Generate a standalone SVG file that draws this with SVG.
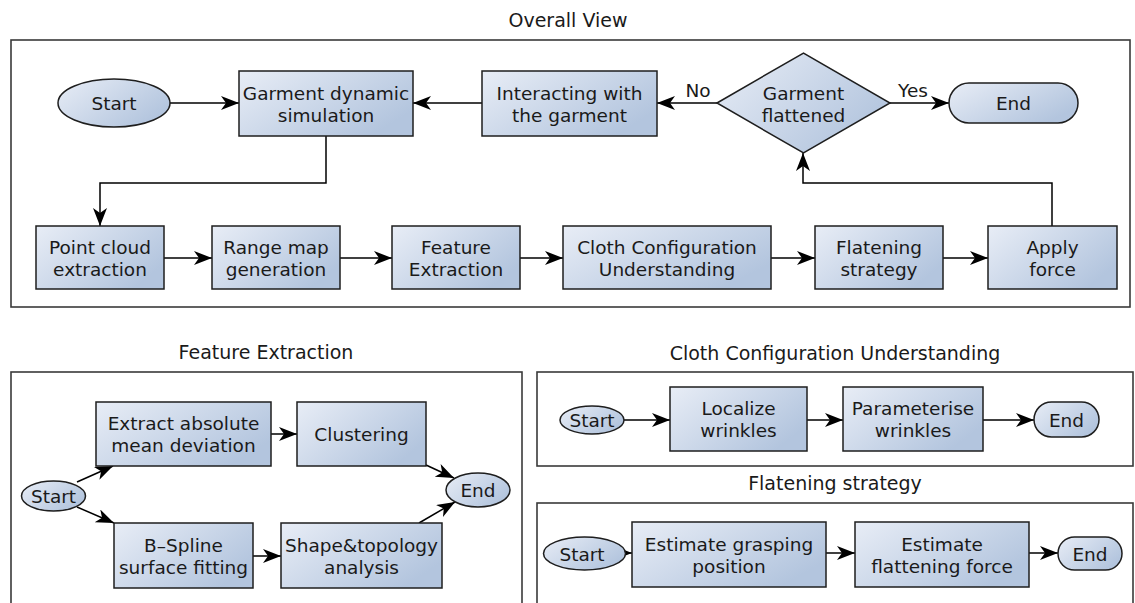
<svg xmlns="http://www.w3.org/2000/svg" width="1135" height="603" viewBox="0 0 1135 603">
  <defs>
    <linearGradient id="fill" x1="0" y1="0" x2="1" y2="0.6">
      <stop offset="0" stop-color="#e8edf6"/>
      <stop offset="1" stop-color="#b3c5de"/>
    </linearGradient>
    <marker id="arrow" markerUnits="userSpaceOnUse" markerWidth="20" markerHeight="16" refX="18" refY="7" orient="auto">
      <path d="M0,0 L18,7 L0,14 L5,7 Z" fill="#000"/>
    </marker>
    <style>
      .frame { fill: none; stroke: #3a3a3a; stroke-width: 1.6; }
      .shape { fill: url(#fill); stroke: #1e1e1e; stroke-width: 1.5; }
      .link { fill: none; stroke: #000; stroke-width: 1.5; marker-end: url(#arrow); }
      text { font-family: "DejaVu Sans", Verdana, sans-serif; font-size: 18.5px; fill: #1a1a1a; text-anchor: middle; }
      .title { font-size: 19px; }
    </style>
  </defs>
  <rect width="1135" height="603" fill="#fff"/>

  <!-- panel frames and titles -->
  <g id="frames">
    <text class="title" x="568" y="27">Overall View</text>
    <rect class="frame" x="11" y="40" width="1119" height="267"/>
    <text class="title" x="266" y="359">Feature Extraction</text>
    <rect class="frame" x="11" y="372" width="511" height="250"/>
    <text class="title" x="835" y="360">Cloth Configuration Understanding</text>
    <rect class="frame" x="537" y="372" width="596" height="94"/>
    <text class="title" x="835" y="490">Flatening strategy</text>
    <rect class="frame" x="537" y="503" width="596" height="120"/>
  </g>

  <!-- connectors -->
  <g id="connectors">
    <!-- overall view -->
    <path class="link" d="M170,103 L239,103"/>
    <path class="link" d="M482,103 L413,103"/>
    <path class="link" d="M717,103 L657,103"/>
    <path class="link" d="M890,103 L949,103"/>
    <path class="link" d="M326,136 L326,183 L100,183 L100,226"/>
    <path class="link" d="M164,258 L212,258"/>
    <path class="link" d="M340,258 L392,258"/>
    <path class="link" d="M520,258 L563,258"/>
    <path class="link" d="M771,258 L815,258"/>
    <path class="link" d="M943,258 L988,258"/>
    <path class="link" d="M1052,226 L1052,183 L803,183 L803,153"/>
    <text x="698" y="97">No</text>
    <text x="913" y="97">Yes</text>
    <!-- feature extraction -->
    <path class="link" d="M77,482 L113,466"/>
    <path class="link" d="M77,507 L114,523"/>
    <path class="link" d="M271,434 L297,434"/>
    <path class="link" d="M426,465 L454,478"/>
    <path class="link" d="M253,556 L281,556"/>
    <path class="link" d="M419,523 L455,502"/>
    <!-- cloth configuration -->
    <path class="link" d="M624,420 L670,420"/>
    <path class="link" d="M807,420 L843,420"/>
    <path class="link" d="M983,420 L1034,420"/>
    <!-- flatening strategy -->
    <path class="link" d="M614,553 L632,553"/>
    <path class="link" d="M826,553 L855,553"/>
    <path class="link" d="M1029,553 L1058,553"/>
  </g>

  <!-- overall view nodes -->
  <g id="ov-start">
    <ellipse class="shape" cx="114" cy="103" rx="56" ry="24"/>
    <text x="114" y="110">Start</text>
  </g>
  <g id="ov-simulation">
    <rect class="shape" x="239" y="71" width="174" height="65"/>
    <text x="326" y="100">Garment dynamic</text>
    <text x="326" y="122">simulation</text>
  </g>
  <g id="ov-interacting">
    <rect class="shape" x="482" y="71" width="175" height="65"/>
    <text x="569.5" y="100">Interacting with</text>
    <text x="569.5" y="122">the garment</text>
  </g>
  <g id="ov-decision">
    <polygon class="shape" points="717,103 803.5,53 890,103 803.5,153"/>
    <text x="803.5" y="100">Garment</text>
    <text x="803.5" y="122">flattened</text>
  </g>
  <g id="ov-end">
    <rect class="shape" x="949" y="83" width="129" height="40" rx="20" ry="20"/>
    <text x="1013.5" y="110">End</text>
  </g>
  <g id="ov-pointcloud">
    <rect class="shape" x="36" y="226" width="128" height="63"/>
    <text x="100" y="254">Point cloud</text>
    <text x="100" y="276">extraction</text>
  </g>
  <g id="ov-rangemap">
    <rect class="shape" x="212" y="226" width="128" height="63"/>
    <text x="276" y="254">Range map</text>
    <text x="276" y="276">generation</text>
  </g>
  <g id="ov-feature">
    <rect class="shape" x="392" y="226" width="128" height="63"/>
    <text x="456" y="254">Feature</text>
    <text x="456" y="276">Extraction</text>
  </g>
  <g id="ov-cloth">
    <rect class="shape" x="563" y="226" width="208" height="63"/>
    <text x="667" y="254">Cloth Configuration</text>
    <text x="667" y="276">Understanding</text>
  </g>
  <g id="ov-flatening">
    <rect class="shape" x="815" y="226" width="128" height="63"/>
    <text x="879" y="254">Flatening</text>
    <text x="879" y="276">strategy</text>
  </g>
  <g id="ov-apply">
    <rect class="shape" x="988" y="226" width="129" height="63"/>
    <text x="1052.5" y="254">Apply</text>
    <text x="1052.5" y="276">force</text>
  </g>

  <!-- feature extraction nodes -->
  <g id="fe-start">
    <ellipse class="shape" cx="53.5" cy="496" rx="32" ry="15"/>
    <text x="53.5" y="503">Start</text>
  </g>
  <g id="fe-deviation">
    <rect class="shape" x="96" y="402" width="175" height="64"/>
    <text x="183.5" y="430">Extract absolute</text>
    <text x="183.5" y="452">mean deviation</text>
  </g>
  <g id="fe-clustering">
    <rect class="shape" x="297" y="402" width="129" height="64"/>
    <text x="361.5" y="441">Clustering</text>
  </g>
  <g id="fe-bspline">
    <rect class="shape" x="114" y="523" width="139" height="65"/>
    <text x="183.5" y="552">B–Spline</text>
    <text x="183.5" y="574">surface fitting</text>
  </g>
  <g id="fe-shape">
    <rect class="shape" x="281" y="523" width="161" height="65"/>
    <text x="361.5" y="552">Shape&amp;topology</text>
    <text x="361.5" y="574">analysis</text>
  </g>
  <g id="fe-end">
    <ellipse class="shape" cx="478" cy="490" rx="32" ry="17"/>
    <text x="478" y="497">End</text>
  </g>

  <!-- cloth configuration nodes -->
  <g id="cc-start">
    <ellipse class="shape" cx="592" cy="420" rx="32" ry="14"/>
    <text x="592" y="427">Start</text>
  </g>
  <g id="cc-localize">
    <rect class="shape" x="670" y="387" width="137" height="64"/>
    <text x="738.5" y="415">Localize</text>
    <text x="738.5" y="437">wrinkles</text>
  </g>
  <g id="cc-parameterise">
    <rect class="shape" x="843" y="387" width="140" height="64"/>
    <text x="913" y="415">Parameterise</text>
    <text x="913" y="437">wrinkles</text>
  </g>
  <g id="cc-end">
    <rect class="shape" x="1034" y="402" width="65" height="35" rx="17.5" ry="17.5"/>
    <text x="1066.5" y="427">End</text>
  </g>

  <!-- flatening strategy nodes -->
  <g id="fs-start">
    <ellipse class="shape" cx="584.5" cy="553.5" rx="41" ry="16.5"/>
    <text x="582" y="561">Start</text>
  </g>
  <g id="fs-grasping">
    <rect class="shape" x="632" y="522" width="194" height="65"/>
    <text x="729" y="551">Estimate grasping</text>
    <text x="729" y="573">position</text>
  </g>
  <g id="fs-force">
    <rect class="shape" x="855" y="522" width="174" height="65"/>
    <text x="942" y="551">Estimate</text>
    <text x="942" y="573">flattening force</text>
  </g>
  <g id="fs-end">
    <rect class="shape" x="1058" y="537" width="64" height="33" rx="16.5" ry="16.5"/>
    <text x="1090" y="561">End</text>
  </g>
</svg>
